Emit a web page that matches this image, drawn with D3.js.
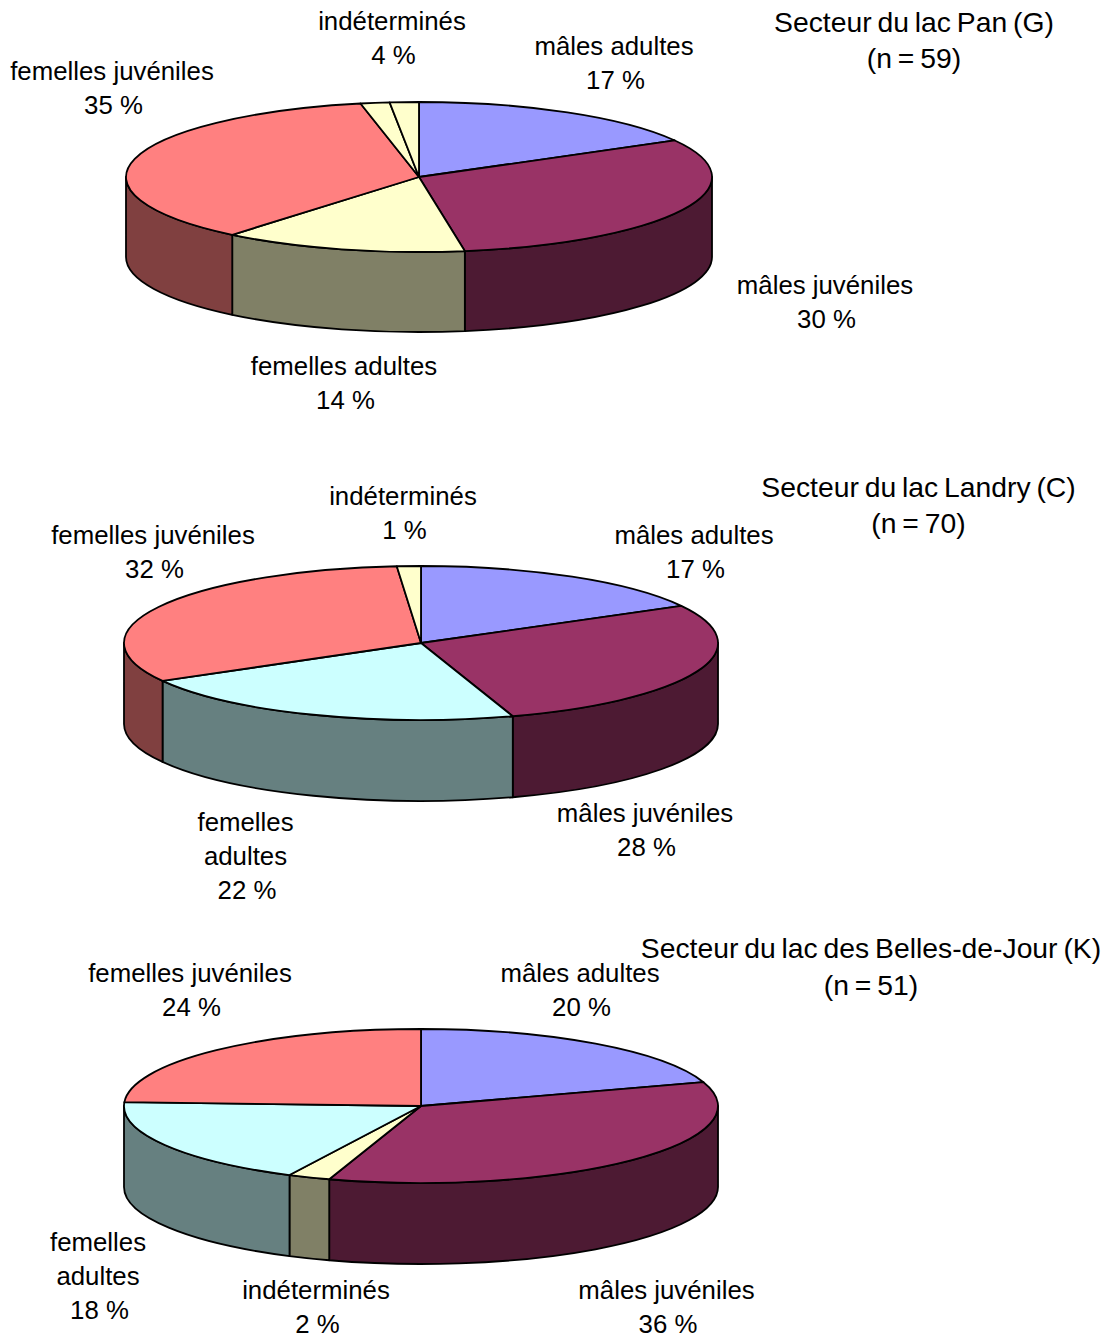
<!DOCTYPE html>
<html><head><meta charset="utf-8">
<script src="https://cdn.jsdelivr.net/npm/d3@7"></script>
<style>html,body{margin:0;padding:0;background:#fff}svg{display:block}text{font-family:"Liberation Sans",Arial,sans-serif;fill:#000;text-anchor:middle}</style>
</head><body><svg id="c" width="1113" height="1337"></svg>
<script>
// Data (shares of the full pie, in %)
const panValues = [16.9, 30.6, 13.5, 35.8, 1.6, 1.6];
const landryValues = [17, 28, 21.8, 31.9, 1.3];
const bellesValues = [20, 35, 2.3, 18.5, 24.2];
const panColors = ["#9999FF", "#993366", "#FFFFCC", "#FF8080", "#FFFFCC", "#FFFFCC"];
const landryColors = ["#9999FF", "#993366", "#CCFFFF", "#FF8080", "#FFFFCC"];
const bellesColors = ["#9999FF", "#993366", "#FFFFCC", "#CCFFFF", "#FF8080"];
const panTitle = ["Secteur du lac Pan (G)", "(n = 59)"];
const landryTitle = ["Secteur du lac Landry (C)", "(n = 70)"];
const bellesTitle = ["Secteur du lac des Belles-de-Jour (K)", "(n = 51)"];
const panLabels = [["mâles adultes", "17 %"], ["mâles juvéniles", "30 %"], ["femelles adultes", "14 %"], ["femelles juvéniles", "35 %"], ["indéterminés", "4 %"]];
const landryLabels = [["mâles adultes", "17 %"], ["mâles juvéniles", "28 %"], ["femelles", "adultes", "22 %"], ["femelles juvéniles", "32 %"], ["indéterminés", "1 %"]];
const bellesLabels = [["mâles adultes", "20 %"], ["mâles juvéniles", "36 %"], ["indéterminés", "2 %"], ["femelles", "adultes", "18 %"], ["femelles juvéniles", "24 %"]];

// Layout
const charts = [
  {values: panValues, colors: panColors, title: panTitle, labels: panLabels, cx: 419, cy: 177, rx: 293, ry: 75, depth: 80,
   titlePos: [914, 32, 36], labelPos: [[614, 55], [825, 294], [344, 375], [112, 80], [392, 30]]},
  {values: landryValues, colors: landryColors, title: landryTitle, labels: landryLabels, cx: 421, cy: 643, rx: 297, ry: 77, depth: 81,
   titlePos: [918.5, 497, 35.5], labelPos: [[694, 544], [645, 822], [245.5, 831], [153, 544], [403, 505]]},
  {values: bellesValues, colors: bellesColors, title: bellesTitle, labels: bellesLabels, cx: 421, cy: 1106, rx: 297, ry: 77, depth: 81,
   titlePos: [871, 958, 36.5], labelPos: [[580, 982], [666.5, 1299], [316, 1299], [98, 1251], [190, 982]]}
];
const LABEL_SIZE = 25.8, TITLE_SIZE = 28.3, LINE = 34, STROKE = 1.8;
const svg = d3.select("#c");
const pie = d3.pie().sort(null);

charts.forEach(c => {
  const g = svg.append("g");
  const px = a => c.cx + c.rx * Math.sin(a), py = a => c.cy - c.ry * Math.cos(a);
  const arcs = pie(c.values);
  const sweep = (a0, a1, dy) => {
    const large = a1 - a0 > Math.PI ? 1 : 0;
    return `A${c.rx},${c.ry} 0 ${large} 1 ${px(a1)},${py(a1) + dy}`;
  };
  // walls of the front half
  arcs.forEach((d, i) => {
    const a0 = Math.max(d.startAngle, Math.PI / 2), a1 = Math.min(d.endAngle, 3 * Math.PI / 2);
    if (a1 <= a0) return;
    const base = d3.color(c.colors[i]);
    const side = d3.rgb(base.r / 2, base.g / 2, base.b / 2);
    g.append("path")
      .attr("d", `M${px(a0)},${py(a0)} ${sweep(a0, a1, 0)} L${px(a1)},${py(a1) + c.depth} ` +
        `A${c.rx},${c.ry} 0 0 0 ${px(a0)},${py(a0) + c.depth} Z`)
      .attr("fill", side).attr("stroke", "#000").attr("stroke-width", STROKE).attr("stroke-linejoin", "round");
  });
  // top faces
  arcs.forEach((d, i) => {
    g.append("path")
      .attr("d", `M${c.cx},${c.cy} L${px(d.startAngle)},${py(d.startAngle)} ${sweep(d.startAngle, d.endAngle, 0)} Z`)
      .attr("fill", c.colors[i]).attr("stroke", "#000").attr("stroke-width", STROKE).attr("stroke-linejoin", "round");
  });
  // labels
  c.labels.forEach((lines, i) => {
    const [x, y] = c.labelPos[i];
    lines.forEach((t, j) => g.append("text").attr("x", x + (j === lines.length - 1 ? 1.5 : 0)).attr("y", y + j * LINE)
      .attr("font-size", LABEL_SIZE).text(t));
  });
  c.title.forEach((t, j) => g.append("text").attr("x", c.titlePos[0]).attr("y", c.titlePos[1] + j * c.titlePos[2])
    .attr("font-size", TITLE_SIZE).attr("word-spacing", -2).text(t));
});
</script></body></html>
